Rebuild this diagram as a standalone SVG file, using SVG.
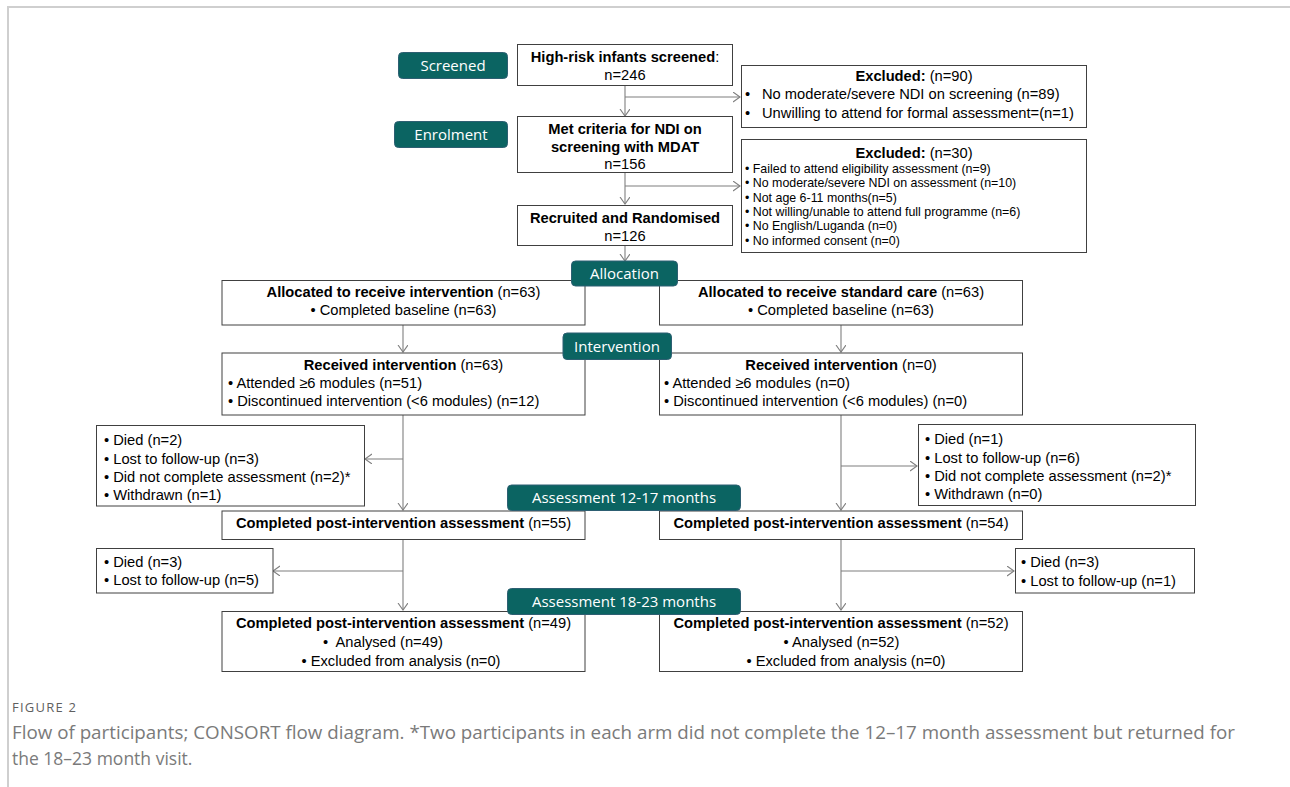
<svg xmlns="http://www.w3.org/2000/svg" width="1290" height="787" viewBox="0 0 1290 787">
<style>
.bx{fill:#fff;stroke:#404040;stroke-width:1}
.t{font-family:"Liberation Sans",Arial,sans-serif;font-size:14.7px;fill:#000}
.s{font-family:"Liberation Sans",Arial,sans-serif;font-size:12.4px;fill:#000}
.c{text-anchor:middle}
.b{font-weight:bold}
.lb{fill:#0b6462;stroke:#2d5f72;stroke-width:1}
.lt{font-family:"Open Sans","Noto Sans",sans-serif;font-size:15px;fill:#fff;text-anchor:middle}
.cn{fill:none;stroke:#7f7f7f;stroke-width:1.1}
.cap{font-family:"Open Sans","Noto Sans",sans-serif;fill:#7a7a7a}
</style>
<defs>
<marker id="ah" markerUnits="userSpaceOnUse" markerWidth="12" markerHeight="12" refX="7" refY="5" orient="auto">
<path d="M0,0 L7,5 L0,10" fill="none" stroke="#7f7f7f" stroke-width="1.1"/>
</marker>
</defs>
<rect x="0" y="0" width="1290" height="787" fill="#fff"/>
<path d="M8,787 V7 H1290" fill="none" stroke="#cfcfcf" stroke-width="2"/>

<g id="connectors">
<path class="cn" d="M625,86 V116" marker-end="url(#ah)"/>
<path class="cn" d="M625,97 H740" marker-end="url(#ah)"/>
<path class="cn" d="M625,173 V204" marker-end="url(#ah)"/>
<path class="cn" d="M625,186 H740" marker-end="url(#ah)"/>
<path class="cn" d="M625,246 V261" marker-end="url(#ah)"/>
<path class="cn" d="M403,325 V352" marker-end="url(#ah)"/>
<path class="cn" d="M841,325 V352" marker-end="url(#ah)"/>
<path class="cn" d="M403,415 V510" marker-end="url(#ah)"/>
<path class="cn" d="M403,459 H365" marker-end="url(#ah)"/>
<path class="cn" d="M841,415 V510" marker-end="url(#ah)"/>
<path class="cn" d="M841,466 H917" marker-end="url(#ah)"/>
<path class="cn" d="M403,540 V610" marker-end="url(#ah)"/>
<path class="cn" d="M403,571 H273" marker-end="url(#ah)"/>
<path class="cn" d="M841,540 V610" marker-end="url(#ah)"/>
<path class="cn" d="M841,571 H1014" marker-end="url(#ah)"/>
</g>

<g id="screened-box">
<rect class="bx" x="517.5" y="44.5" width="215" height="41"/>
<text class="t c" x="625" y="62"><tspan class="b">High-risk infants screened</tspan>:</text>
<text class="t c" x="625" y="80">n=246</text>
</g>
<g id="excluded1">
<rect class="bx" x="741.5" y="65.5" width="345" height="62"/>
<text class="t c" x="914" y="81"><tspan class="b">Excluded:</tspan> (n=90)</text>
<text class="t" x="745" y="99">•</text><text class="t" x="762" y="99">No moderate/severe NDI on screening (n=89)</text>
<text class="t" x="745" y="118">•</text><text class="t" x="762" y="118">Unwilling to attend for formal assessment=(n=1)</text>
</g>
<g id="enrol-box">
<rect class="bx" x="517.5" y="116.5" width="215" height="56"/>
<text class="t c b" x="625" y="134">Met criteria for NDI on</text>
<text class="t c b" x="625" y="152">screening with MDAT</text>
<text class="t c" x="625" y="169">n=156</text>
</g>
<g id="excluded2">
<rect class="bx" x="741.5" y="139.5" width="345" height="113"/>
<text class="t c" x="914" y="158"><tspan class="b">Excluded:</tspan> (n=30)</text>
<text class="s" x="745" y="172.5">• Failed to attend eligibility assessment (n=9)</text>
<text class="s" x="745" y="187">• No moderate/severe NDI on assessment (n=10)</text>
<text class="s" x="745" y="201.5">• Not age 6-11 months(n=5)</text>
<text class="s" x="745" y="215.5">• Not willing/unable to attend full programme (n=6)</text>
<text class="s" x="745" y="230">• No English/Luganda (n=0)</text>
<text class="s" x="745" y="244.5">• No informed consent (n=0)</text>
</g>
<g id="recruited-box">
<rect class="bx" x="517.5" y="205.5" width="215" height="40"/>
<text class="t c b" x="625" y="223">Recruited and Randomised</text>
<text class="t c" x="625" y="241">n=126</text>
</g>

<g id="alloc-left">
<rect class="bx" x="222" y="280.5" width="363" height="44.5"/>
<text class="t c" x="403.5" y="297"><tspan class="b">Allocated to receive intervention</tspan> (n=63)</text>
<text class="t c" x="403.5" y="315">• Completed baseline (n=63)</text>
</g>
<g id="alloc-right">
<rect class="bx" x="659.5" y="280.5" width="363" height="44.5"/>
<text class="t c" x="841" y="297"><tspan class="b">Allocated to receive standard care</tspan> (n=63)</text>
<text class="t c" x="841" y="315">• Completed baseline (n=63)</text>
</g>
<g id="recv-left">
<rect class="bx" x="222" y="353" width="363" height="62"/>
<text class="t c" x="403.5" y="370"><tspan class="b">Received intervention</tspan><tspan dx="4">(n=63)</tspan></text>
<text class="t" x="228" y="388">• Attended ≥6 modules (n=51)</text>
<text class="t" x="228" y="406">• Discontinued intervention (&lt;6 modules) (n=12)</text>
</g>
<g id="recv-right">
<rect class="bx" x="659.5" y="353" width="363" height="62"/>
<text class="t c" x="841" y="370"><tspan class="b">Received intervention</tspan> (n=0)</text>
<text class="t" x="664" y="388">• Attended ≥6 modules (n=0)</text>
<text class="t" x="664" y="406">• Discontinued intervention (&lt;6 modules) (n=0)</text>
</g>
<g id="lost1-left">
<rect class="bx" x="96.5" y="425.5" width="268" height="80.5"/>
<text class="t" x="104" y="445">• Died (n=2)</text>
<text class="t" x="104" y="463.5">• Lost to follow-up (n=3)</text>
<text class="t" x="104" y="482">• Did not complete assessment (n=2)*</text>
<text class="t" x="104" y="500">• Withdrawn (n=1)</text>
</g>
<g id="lost1-right">
<rect class="bx" x="918.5" y="424.5" width="277" height="81"/>
<text class="t" x="925" y="444">• Died (n=1)</text>
<text class="t" x="925" y="462.5">• Lost to follow-up (n=6)</text>
<text class="t" x="925" y="481">• Did not complete assessment (n=2)*</text>
<text class="t" x="925" y="499">• Withdrawn (n=0)</text>
</g>
<g id="comp1-left">
<rect class="bx" x="222" y="511" width="363" height="28.5"/>
<text class="t c" x="403.5" y="528"><tspan class="b">Completed post-intervention assessment</tspan> (n=55)</text>
</g>
<g id="comp1-right">
<rect class="bx" x="659.5" y="511" width="363" height="28.5"/>
<text class="t c" x="841" y="528"><tspan class="b">Completed post-intervention assessment</tspan> (n=54)</text>
</g>
<g id="lost2-left">
<rect class="bx" x="96.5" y="548.5" width="176.5" height="44.5"/>
<text class="t" x="104" y="567">• Died (n=3)</text>
<text class="t" x="104" y="585">• Lost to follow-up (n=5)</text>
</g>
<g id="lost2-right">
<rect class="bx" x="1015.5" y="548.5" width="179" height="44.5"/>
<text class="t" x="1021" y="567">• Died (n=3)</text>
<text class="t" x="1021" y="585.5">• Lost to follow-up (n=1)</text>
</g>
<g id="comp2-left">
<rect class="bx" x="222" y="611.5" width="363" height="60"/>
<text class="t c" x="403.5" y="628"><tspan class="b">Completed post-intervention assessment</tspan> (n=49)</text>
<text class="t" x="323" y="647" xml:space="preserve">•  Analysed (n=49)</text>
<text class="t c" x="401" y="665.5">• Excluded from analysis (n=0)</text>
</g>
<g id="comp2-right">
<rect class="bx" x="659.5" y="611.5" width="363" height="60"/>
<text class="t c" x="841" y="628"><tspan class="b">Completed post-intervention assessment</tspan> (n=52)</text>
<text class="t c" x="841.5" y="647">• Analysed (n=52)</text>
<text class="t c" x="846" y="665.5">• Excluded from analysis (n=0)</text>
</g>

<g id="label-screened"><rect class="lb" x="398.5" y="52.5" width="109" height="26" rx="4"/><text class="lt" x="453" y="71">Screened</text></g>
<g id="label-enrolment"><rect class="lb" x="394.5" y="121.5" width="113" height="26" rx="4"/><text class="lt" x="451" y="140">Enrolment</text></g>
<g id="label-allocation"><rect class="lb" x="571.5" y="261" width="106" height="25" rx="4"/><text class="lt" x="624.5" y="279">Allocation</text></g>
<g id="label-intervention"><rect class="lb" x="563" y="333" width="108.5" height="26.5" rx="4"/><text class="lt" x="617" y="352">Intervention</text></g>
<g id="label-assess1"><rect class="lb" x="507.5" y="485" width="233" height="25.5" rx="4"/><text class="lt" x="624" y="503">Assessment 12-17 months</text></g>
<g id="label-assess2"><rect class="lb" x="507.5" y="588.5" width="233" height="26" rx="4"/><text class="lt" x="624" y="607">Assessment 18-23 months</text></g>

<g id="caption">
<text class="cap" x="12" y="712" font-size="13" textLength="64" lengthAdjust="spacing" style="fill:#5f5f5f">FIGURE 2</text>
<text class="cap" x="12" y="739" font-size="17.5" textLength="1223" lengthAdjust="spacingAndGlyphs">Flow of participants; CONSORT flow diagram. *Two participants in each arm did not complete the 12–17 month assessment but returned for</text>
<text class="cap" x="12" y="765" font-size="17.5">the 18–23 month visit.</text>
</g>
</svg>
